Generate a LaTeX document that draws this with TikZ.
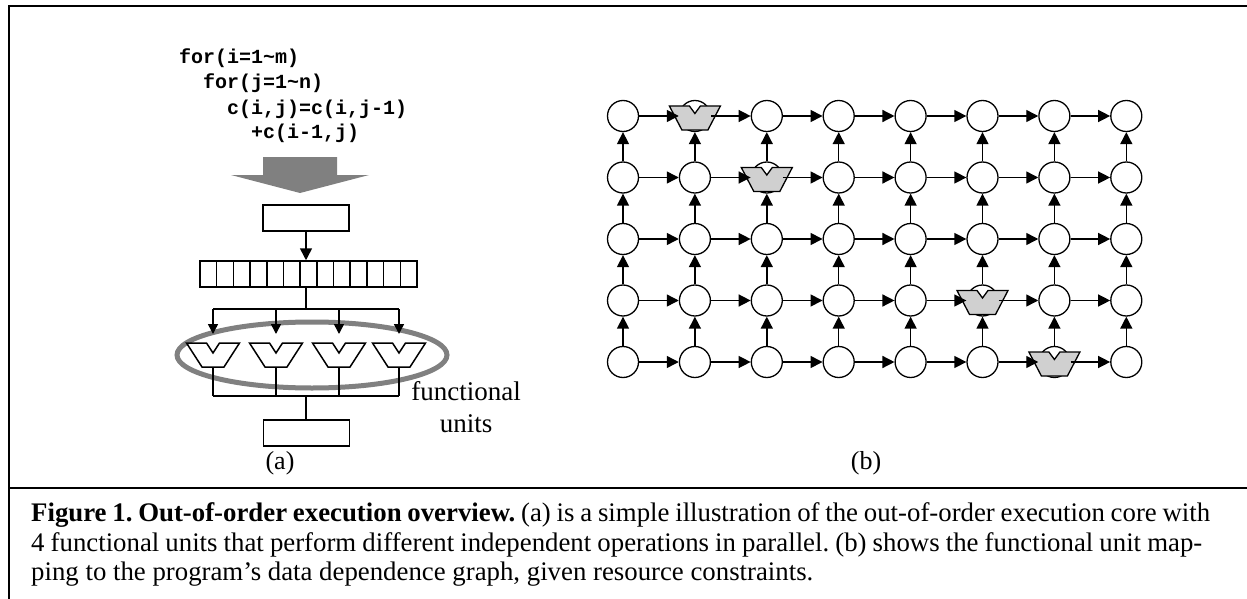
\documentclass[tikz,border=0pt]{standalone}
\usepackage{fontspec}
\setmainfont{Liberation Serif}
\newfontfamily\codefont{Liberation Mono}
\usetikzlibrary{arrows.meta}
\frenchspacing

% outline of a functional unit (ALU): top half-width, bottom half-width,
% half height, notch half-width, notch depth
\newcommand{\aluoutline}[5]{(-#1,-#3) -- (-#4,-#3) -- (0,-#3+#5) -- (#4,-#3) -- (#1,-#3) -- (#2,#3) -- (-#2,#3) -- cycle}

\begin{document}
\begin{tikzpicture}[x=1pt,y=-1pt,line join=miter]
\tikzset{
  frame/.style={line width=2.2pt},
  wire/.style={line width=1.5pt},
  box/.style={draw, line width=1.5pt, minimum width=86pt, minimum height=26pt, inner sep=0pt},
  dnode/.style={circle, draw, line width=1.3pt, minimum size=31pt, inner sep=0pt, fill=white},
  dep/.style={line width=1.4pt, -{Triangle[length=12pt,width=12pt]}},
  feed/.style={line width=1.5pt, -{Triangle[length=12pt,width=12pt]}},
  issue/.style={line width=1.5pt, -{Triangle[length=10pt,width=10pt]}},
  fuwhite/.style={draw, line width=1.5pt},
  fugray/.style={draw, line width=1.3pt, fill=fugrayfill},
  code/.style={anchor=base west, inner sep=0pt, font=\codefont\bfseries\fontsize{20}{25}\selectfont},
  lbl/.style={anchor=base, inner sep=0pt, font=\fontsize{26}{32}\selectfont},
  captext/.style={anchor=base west, inner sep=0pt, font=\fontsize{26.8}{30}\selectfont},
}
\definecolor{fugrayfill}{RGB}{208,208,208}
\definecolor{bigarrow}{RGB}{128,128,128}
\definecolor{ringgray}{RGB}{128,128,128}

\useasboundingbox (0,0) rectangle (1247,599);
\clip (0,0) rectangle (1247,599);

% frame and divider above the caption
\draw[frame] (1260,6) -- (9,6) -- (9,610);
\draw[frame] (9,488) -- (1260,488);

% ---------------- (a) ----------------
\node[code] (l1) at (179,64)  {for(i=1\string~m)};
\node[code] (l2) at (203,89)  {for(j=1\string~n)};
\node[code] (l3) at (227,114) {c(i,j)=c(i,j-1)};
\node[code] (l4) at (251,139) {+c(i-1,j)};

% thick gray arrow
\fill[bigarrow] (263,157) -- (337,157) -- (337,175) -- (369,175) -- (300,193)
  -- (231,175) -- (263,175) -- cycle;

\node[box] (dec) at (306,218) {};
\node[draw, line width=1.5pt, minimum width=217pt, minimum height=26pt, inner sep=0pt] (rob) at (308.5,274) {};
\foreach \i in {1,...,12}
  \draw[wire] ({200+\i*217/13},261) -- ({200+\i*217/13},287);
\draw[feed] (dec.south) -- (dec.south |- rob.north);

\coordinate (busT) at (306,309);
\coordinate (busB) at (306,396);
\node[box] (wb) at (306.5,433) {};

% ring round the functional units
\draw[line width=5pt, ringgray] (312,355) ellipse [x radius=135pt, y radius=33pt];

\draw[wire] (rob.south -| busT) -- (busT);
\draw[wire] (213,309) -- (399,309);
\draw[wire] (213,396) -- (399,396);
\draw[wire] (busB) -- (wb.north -| busB);
\foreach \xx in {213,276,339,399} {
  \draw[issue] (\xx,309) -- (\xx,334);
  \draw[fuwhite, shift={(\xx,355)}] \aluoutline{26.5}{11}{12}{6.5}{10};
  \draw[wire] (\xx,367) -- (\xx,396);
}

\node[lbl, font=\fontsize{27}{32}\selectfont] (fl1) at (466,400) {functional};
\node[lbl, font=\fontsize{27}{32}\selectfont] (fl2) at (466,432) {units};
\node[lbl] (la) at (280,469) {(a)};

% ---------------- (b) ----------------
\foreach \row in {1,...,5}
  \foreach \col in {1,...,8}
    \node[dnode] (n-\row-\col) at ({623+71.9*(\col-1)},{116+61.5*(\row-1)}) {};

\foreach \fu in {n-1-2,n-2-3,n-4-6,n-5-7}
  \draw[fugray, shift={(\fu)}, yshift=-2pt] \aluoutline{25.5}{13}{12}{5.5}{7.5};

\foreach \row in {1,...,5}
  \foreach \col in {1,...,7} {
    \pgfmathtruncatemacro{\nxt}{\col+1}
    \draw[dep] (n-\row-\col) -- (n-\row-\nxt);
  }
\foreach \row in {1,...,4}
  \foreach \col in {1,...,8} {
    \pgfmathtruncatemacro{\below}{\row+1}
    \draw[dep] (n-\below-\col) -- (n-\row-\col);
  }

\node[lbl] (lb) at (866,469) {(b)};

% ---------------- caption ----------------
\node[captext] (c1) at (31,521.5) {\makebox[1179pt][s]{\textbf{Figure 1. Out-of-order execution overview.} (a) is a simple illustration of the out-of-order execution core with}};
\node[captext] (c2) at (31,551) {\makebox[1171pt][s]{4 functional units that perform different independent operations in parallel. (b) shows the functional unit map-}};
\node[captext] (c3) at (31,580) {ping to the program’s data dependence graph, given resource constraints.};
\end{tikzpicture}
\end{document}
